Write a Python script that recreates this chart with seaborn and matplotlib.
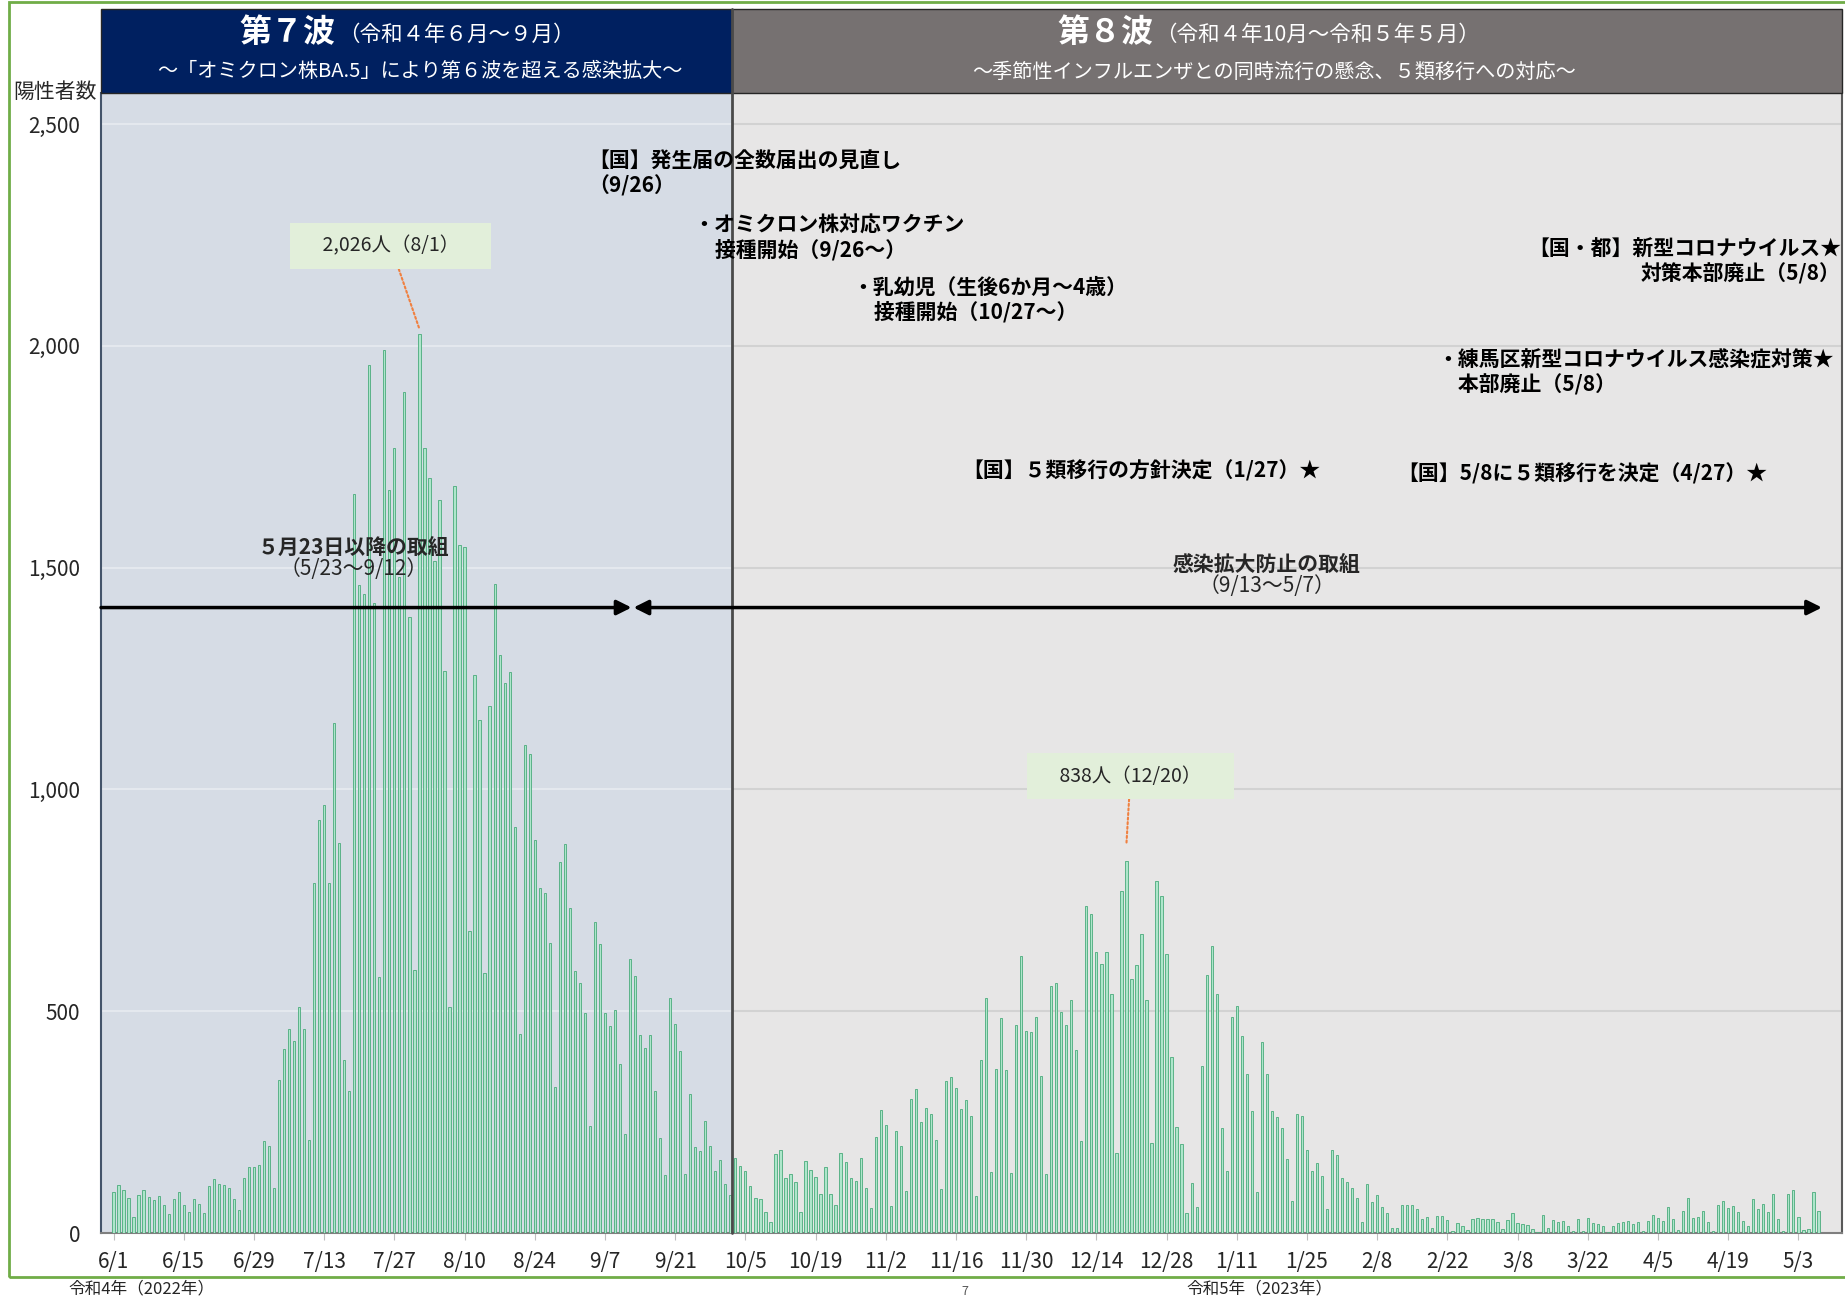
import numpy as np
import pandas as pd
import matplotlib.pyplot as plt
import seaborn as sns
from matplotlib.patches import Rectangle

# daily positive cases (Nerima), 2022-06-01 .. 2023-05-07
jun = [93, 108, 98, 78, 37, 86, 96, 82, 74, 84, 62, 42, 77, 93, 64, 47, 77, 65, 44, 106,
       122, 111, 108, 102, 77, 51, 124, 148, 148, 153]
jul = [207, 197, 102, 344, 415, 459, 432, 510, 459, 210, 789, 931, 966, 790, 1150, 879, 390, 319, 1666, 1460,
       1441, 1956, 1421, 577, 1991, 1674, 1769, 1480, 1895, 1389, 594]
aug = [2026, 1769, 1701, 1515, 1653, 1266, 509, 1684, 1550, 1546, 681, 1259, 1157, 587, 1187, 1462, 1304, 1241, 1265, 915,
       449, 1100, 1079, 886, 777, 767, 654, 329, 836, 878, 732]
sep = [590, 563, 496, 242, 700, 652, 497, 466, 503, 381, 224, 618, 580, 447, 417, 447, 319, 214, 131, 529,
       471, 411, 133, 313, 195, 184, 253, 197, 139, 165]
oct_ = [110, 86, 170, 150, 139, 105, 80, 76, 48, 25, 177, 186, 123, 133, 114, 48, 163, 142, 127, 88,
        149, 89, 63, 180, 160, 123, 118, 168, 101, 57, 216]
nov = [278, 244, 60, 231, 197, 95, 302, 324, 251, 281, 268, 209, 99, 343, 352, 326, 279, 299, 264, 84,
       389, 530, 138, 370, 485, 367, 136, 470, 625, 455]
dec = [453, 486, 355, 134, 557, 563, 498, 470, 526, 412, 207, 738, 719, 634, 606, 634, 539, 181, 771, 838,
       573, 604, 673, 526, 204, 794, 760, 629, 397, 239, 200]
jan = [45, 112, 59, 377, 582, 648, 539, 237, 140, 486, 511, 443, 359, 274, 92, 430, 358, 276, 261, 237,
       167, 73, 269, 263, 186, 139, 158, 129, 53, 188, 175]
feb = [124, 114, 101, 79, 24, 110, 70, 85, 58, 44, 11, 11, 64, 62, 62, 54, 32, 35, 11, 38,
       39, 30, 4, 22, 16, 7, 32, 34]
mar = [32, 32, 31, 24, 10, 30, 45, 22, 21, 19, 10, 3, 40, 11, 30, 24, 26, 16, 5, 31,
       4, 34, 22, 21, 16, 3, 16, 22, 24, 26, 20]
apr = [24, 5, 26, 41, 34, 26, 58, 32, 7, 50, 79, 34, 37, 49, 24, 4, 64, 73, 56, 61,
       47, 28, 15, 76, 54, 65, 47, 88, 32, 4]
may = [88, 96, 37, 7, 10, 92, 49]

yticks = [0, 500, 1000, 1500, 2000, 2500]

cases = jun + jul + aug + sep + oct_ + nov + dec + jan + feb + mar + apr + may
dates = pd.date_range('2022-06-01', '2023-05-07')
labels = [f"{d.month}/{d.day}" for d in dates]
df = pd.DataFrame({'day': labels, 'cases': cases})

sns.set_style('white')
plt.rcParams['font.family'] = ['Noto Sans CJK JP', 'DejaVu Sans']

W, H = 1845, 1300
fig = plt.figure(figsize=(W / 100, H / 100), dpi=100)
ax = fig.add_axes([101 / W, 1 - 1233 / H, (1842 - 101) / W, (1233 - 93) / H])

xmin, xmax = -2.5, 344.7
divider = 123.4
hdr = 84 / 1140  # header height in axes units

ax.axvspan(xmin, divider, color='#d6dce5', zorder=0)
ax.axvspan(divider, xmax, color='#e7e6e6', zorder=0)
ax.hlines(yticks[1:], xmin, divider, color='#e4e8ee', lw=1.5, zorder=0.5)
ax.hlines(yticks[1:], divider, xmax, color='#d2d2d2', lw=1.5, zorder=0.5)

sns.barplot(data=df, x='day', y='cases', order=labels, color='#aee6cb', saturation=1,
            width=0.45, edgecolor='#4aab7b', linewidth=0.6, errorbar=None, ax=ax, zorder=3)

ax.set_xlim(xmin, xmax)
ax.set_ylim(0, 2570)
ax.set(xlabel='', ylabel='')
ax.set_yticks(yticks)
ax.set_yticklabels([f"{v:,}" for v in yticks])
tick_pos = list(range(0, len(labels), 14))
ax.set_xticks(tick_pos)
ax.set_xticklabels([labels[i] for i in tick_pos])
ax.tick_params(axis='y', length=0, pad=15, labelsize=15)
ax.tick_params(axis='x', length=5, color='#bfbfbf', pad=8, labelsize=15, direction='out', bottom=True)
ax.spines['top'].set_visible(False)
ax.spines['left'].set_color('#44546a')
ax.spines['left'].set_linewidth(1.5)
ax.spines['bottom'].set_color('#7f7f7f')
ax.spines['bottom'].set_linewidth(1.5)
ax.spines['right'].set_color('#595959')
ax.spines['right'].set_linewidth(1.5)

# wave headers
tr = ax.get_xaxis_transform()
ax.add_patch(Rectangle((xmin, 1), divider - xmin, hdr, transform=tr, clip_on=False,
                       fc='#002060', ec='#262626', lw=1, zorder=5))
ax.add_patch(Rectangle((divider, 1), xmax - divider, hdr, transform=tr, clip_on=False,
                       fc='#767171', ec='#262626', lw=1, zorder=5))
ax.plot([divider, divider], [0, 1 + hdr], transform=tr, clip_on=False, color='#4a4a4a', lw=2, zorder=6)

ax.text(44.3, 1.053, '第７波', transform=tr, ha='right', va='center', fontsize=23,
        fontweight='bold', color='white', zorder=7)
ax.text(44.8, 1.051, '（令和４年６月～９月）', transform=tr, ha='left', va='center',
        fontsize=15.5, color='white', zorder=7)
ax.text(61, 1.019, '～「オミクロン株BA.5」により第６波を超える感染拡大～', transform=tr,
        ha='center', va='center', fontsize=14.5, color='white', zorder=7)
ax.text(207.3, 1.053, '第８波', transform=tr, ha='right', va='center', fontsize=23,
        fontweight='bold', color='white', zorder=7)
ax.text(207.8, 1.051, '（令和４年10月～令和５年５月）', transform=tr, ha='left', va='center',
        fontsize=15.5, color='white', zorder=7)
ax.text(231.5, 1.018, '～季節性インフルエンザとの同時流行の懸念、５類移行への対応～', transform=tr,
        ha='center', va='center', fontsize=14.5, color='white', zorder=7)

# event notes
note = dict(fontsize=15, fontweight='bold', color='black', va='center', zorder=8)
ax.text(94.6, 2388, '【国】発生届の全数届出の見直し\n（9/26）', ha='left', **note)
ax.text(115.7, 2245, '・オミクロン株対応ワクチン\n　接種開始（9/26～）', ha='left', **note)
ax.text(147.4, 2104, '・乳幼児（生後6か月～4歳）\n　接種開始（10/27～）', ha='left', **note)
ax.text(344.5, 2190, '【国・都】新型コロナウイルス★\n対策本部廃止（5/8）', ha='right',
        multialignment='right', **note)
ax.text(264.0, 1940, '・練馬区新型コロナウイルス感染症対策★\n　本部廃止（5/8）', ha='left', **note)
ax.text(169.3, 1718, '【国】５類移行の方針決定（1/27）★', ha='left', **note)
ax.text(256.0, 1711, '【国】5/8に５類移行を決定（4/27）★', ha='left', **note)

# period arrows
i_end1 = labels.index('9/12')
i_start2 = labels.index('9/13')
i_end2 = labels.index('5/7')
ay = 1410
ax.annotate('', xy=(i_end1 + 0.3, ay), xytext=(xmin, ay),
            arrowprops=dict(arrowstyle='-|>', lw=2.5, color='black', mutation_scale=22,
                            shrinkA=0, shrinkB=0), zorder=8)
ax.annotate('', xy=(i_end2 + 0.7, ay), xytext=(i_start2 - 0.3, ay),
            arrowprops=dict(arrowstyle='<|-|>', lw=2.5, color='black', mutation_scale=22,
                            shrinkA=0, shrinkB=0), zorder=8)
ax.text(47.8, 1521, '５月23日以降の取組', ha='center', va='bottom', fontsize=15,
        fontweight='bold', zorder=8)
ax.text(47.8, 1521, '（5/23～9/12）', ha='center', va='top', fontsize=15, zorder=8)
ax.text(230.0, 1483, '感染拡大防止の取組', ha='center', va='bottom', fontsize=15,
        fontweight='bold', zorder=8)
ax.text(230.0, 1483, '（9/13～5/7）', ha='center', va='top', fontsize=15, zorder=8)

# peak callouts
peak7 = int(np.argmax(cases[:len(jun) + len(jul) + len(aug) + len(sep)]))
i8 = labels.index('10/1')
peak8 = i8 + int(np.argmax(cases[i8:]))
box = dict(boxstyle='square,pad=0.65', fc='#e2efda', ec='none')
leader = dict(arrowstyle='-', ls=(0, (1, 1.2)), color='#f08040', lw=1.5, shrinkA=0, shrinkB=0)
ax.annotate(f'　{cases[peak7]:,}人（{labels[peak7]}）　', xy=(peak7, cases[peak7] + 12),
            xytext=(55.3, 2225), ha='center', va='center', fontsize=14,
            bbox=box, arrowprops=leader, zorder=9)
ax.annotate(f'　{cases[peak8]:,}人（{labels[peak8]}）　', xy=(peak8, cases[peak8] + 40),
            xytext=(202.8, 1030), ha='center', va='center', fontsize=14,
            bbox=box, arrowprops=leader, zorder=9)

# outer labels and frame
fig.text(55 / W, 1 - 92 / H, '陽性者数', ha='center', va='center', fontsize=15)
fig.text(141 / W, 1 - 1289 / H, '令和4年（2022年）', ha='center', va='center', fontsize=12)
fig.text(1259 / W, 1 - 1289 / H, '令和5年（2023年）', ha='center', va='center', fontsize=12)
fig.text(965 / W, 1 - 1298 / H, '7', ha='center', va='bottom', fontsize=9, color='#595959')
fig.add_artist(Rectangle((9 / W, 1 - 1277 / H), 1.0, (1277 - 2) / H, transform=fig.transFigure,
                         fill=False, ec='#70ad47', lw=2))

fig.savefig('out.png', dpi=100)
